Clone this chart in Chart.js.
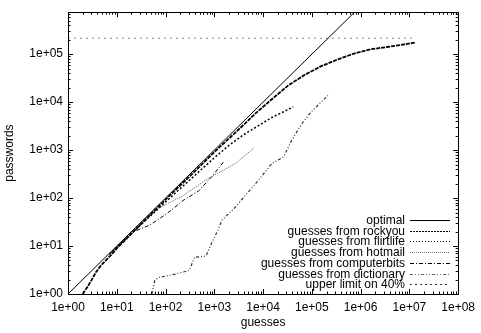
<!DOCTYPE html>
<html>
<head>
<meta charset="utf-8">
<script src="https://cdn.jsdelivr.net/npm/chart.js@4/dist/chart.umd.min.js"></script>
<style>
  html, body { margin: 0; padding: 0; background: #fff; }
</style>
</head>
<body>
<canvas id="chart" width="481" height="333"></canvas>
<script>
// ---- data (log-log) ----
const seriesNames = [
    'optimal',
    'guesses from rockyou',
    'guesses from flirtlife',
    'guesses from hotmail',
    'guesses from computerbits',
    'guesses from dictionary',
    'upper limit on 40%'
];

const xTickLabels = ['1e+00', '1e+01', '1e+02', '1e+03', '1e+04', '1e+05', '1e+06', '1e+07', '1e+08'];
const yTickLabels = ['1e+00', '1e+01', '1e+02', '1e+03', '1e+04', '1e+05'];
const yMax = 750000;

const optimalGuesses = [1, 1000000];
const optimalPasswords = [1, 1000000];

const rockyouGuesses = [2, 2.5, 3, 3.7, 4.7, 7.4, 10, 32, 100, 316, 1000, 3160, 6900, 15100, 33000, 69000, 155000, 339000, 708000, 1580000, 3470000, 7240000, 12900000];
const rockyouPasswords = [1, 1.4, 1.9, 2.8, 3.9, 6.3, 8.9, 29.5, 93, 288, 912, 2690, 5750, 11500, 22400, 36300, 56200, 77600, 102000, 126000, 141000, 158000, 174000];

const flirtlifeGuesses = [7.1, 31.6, 100, 316, 1000, 1995, 3981, 6918, 15136, 25119, 41687];
const flirtlifePasswords = [6.8, 28.2, 83, 240, 692, 1259, 2089, 2951, 4786, 6166, 7943];

const hotmailGuesses = [7.1, 22.4, 40, 76, 229, 676, 2692, 6607];
const hotmailPasswords = [6.8, 20, 35.5, 63, 112, 240, 525, 1122];

const computerbitsGuesses = [7.1, 22.4, 47.9, 105, 229, 479, 912, 1622];
const computerbitsPasswords = [6.8, 20, 27.5, 46.8, 89, 141, 288, 603];

const dictionaryGuesses = [52.5, 60, 71, 158, 309, 389, 676, 851, 1148, 1445, 2692, 7586, 15136, 26303, 38019, 60256, 97724, 154882, 213796];
const dictionaryPasswords = [1, 1.9, 2.2, 2.6, 3.1, 5.8, 6.2, 10.7, 20, 34.7, 64.6, 219, 525, 724, 1549, 3388, 6310, 10000, 13800];

const upperGuesses = [1, 12900000];
const upperPasswords = [215000, 215000];

function pairs(xs, ys) {
    return xs.map((x, i) => ({ x, y: ys[i] }));
}

const FONT = 'Liberation Sans, Arial, Helvetica, sans-serif';

// gnuplot-ish frame with inward ticks on all four sides
const frameTicks = {
    id: 'frameTicks',
    afterDatasetsDraw(chart) {
        const { ctx, chartArea: a, scales: { x, y } } = chart;
        ctx.save();
        ctx.strokeStyle = '#000';
        ctx.lineWidth = 1;
        ctx.beginPath();
        for (let d = 0; d <= 8; d++) {
            for (let m = 1; m <= 9; m++) {
                const v = m * Math.pow(10, d);
                if (v > 1e8) break;
                const px = Math.round(x.getPixelForValue(v)) + 0.5;
                const len = m === 1 ? 5 : 2.5;
                ctx.moveTo(px, a.bottom); ctx.lineTo(px, a.bottom - len);
                ctx.moveTo(px, a.top); ctx.lineTo(px, a.top + len);
            }
        }
        for (let d = 0; d <= 6; d++) {
            for (let m = 1; m <= 9; m++) {
                const v = m * Math.pow(10, d);
                if (v > yMax) break;
                const py = Math.round(y.getPixelForValue(v)) + 0.5;
                const len = m === 1 ? 5 : 2.5;
                ctx.moveTo(a.left, py); ctx.lineTo(a.left + len, py);
                ctx.moveTo(a.right, py); ctx.lineTo(a.right - len, py);
            }
        }
        ctx.stroke();
        ctx.strokeRect(Math.round(a.left) + 0.5, Math.round(a.top) + 0.5,
            Math.round(a.right - a.left), Math.round(a.bottom - a.top));
        ctx.restore();
    }
};

// key in the lower right, text right-aligned with the sample after it
const keyBox = {
    id: 'keyBox',
    afterDraw(chart) {
        const { ctx } = chart;
        const textRight = 405, x0 = 410, x1 = 450, top = 220, step = 10.7;
        ctx.save();
        ctx.font = '12px ' + FONT;
        ctx.textAlign = 'right';
        ctx.textBaseline = 'middle';
        chart.data.datasets.forEach((ds, i) => {
            const yy = Math.round(top + i * step) + 0.5;
            ctx.fillStyle = '#000';
            ctx.fillText(ds.label, textRight, yy);
            ctx.strokeStyle = ds.keyColor || ds.borderColor;
            ctx.lineWidth = 1;
            ctx.setLineDash(ds.keyDash || ds.borderDash || []);
            ctx.beginPath();
            ctx.moveTo(x0, yy); ctx.lineTo(x1, yy);
            ctx.stroke();
        });
        ctx.restore();
    }
};

const line = (label, xs, ys, color, width, dash, extra) => Object.assign({
    label,
    data: pairs(xs, ys),
    showLine: true,
    borderColor: color,
    backgroundColor: color,
    borderWidth: width,
    borderDash: dash,
    pointRadius: 0,
    tension: 0,
    fill: false
}, extra || {});

new Chart(document.getElementById('chart'), {
    type: 'scatter',
    data: {
        datasets: [
            line(seriesNames[0], optimalGuesses, optimalPasswords, '#000', 1, []),
            line(seriesNames[1], rockyouGuesses, rockyouPasswords, '#000', 1.8, [4, 1], { keyDash: [2, 1] }),
            line(seriesNames[2], flirtlifeGuesses, flirtlifePasswords, '#000', 1.5, [2, 2], { keyDash: [1, 2] }),
            line(seriesNames[3], hotmailGuesses, hotmailPasswords, '#777', 1, [1.5, 1], { keyDash: [1, 1] }),
            line(seriesNames[4], computerbitsGuesses, computerbitsPasswords, '#000', 1, [4, 2, 1, 2]),
            line(seriesNames[5], dictionaryGuesses, dictionaryPasswords, '#333', 1.2, [3, 2, 1, 2, 1, 2], { keyColor: '#666' }),
            line(seriesNames[6], upperGuesses, upperPasswords, '#888', 1, [2, 4], { keyColor: '#333', keyDash: [2, 3] })
        ]
    },
    options: {
        responsive: false,
        animation: false,
        devicePixelRatio: 1,
        layout: { padding: { left: 0, right: 17, top: 5, bottom: 0 } },
        plugins: { legend: { display: false }, tooltip: { enabled: false } },
        scales: {
            x: {
                type: 'logarithmic',
                position: 'bottom',
                min: 1,
                max: 1e8,
                grid: { display: false, drawTicks: false },
                border: { display: false },
                afterBuildTicks: s => { s.ticks = xTickLabels.map(l => ({ value: Number(l) })); },
                afterFit: s => { s.height = 39; },
                ticks: {
                    autoSkip: false,
                    maxRotation: 0,
                    padding: 6,
                    color: '#000',
                    font: { family: FONT, size: 12 },
                    callback: (v, i) => xTickLabels[i]
                },
                title: {
                    display: true,
                    text: 'guesses',
                    color: '#000',
                    font: { family: FONT, size: 12 },
                    padding: { top: 0, bottom: 3 }
                }
            },
            y: {
                type: 'logarithmic',
                position: 'left',
                min: 1,
                max: yMax,
                grid: { display: false, drawTicks: false },
                border: { display: false },
                afterBuildTicks: s => { s.ticks = yTickLabels.map(l => ({ value: Number(l) })); },
                afterFit: s => { s.width = 68; },
                ticks: {
                    autoSkip: false,
                    padding: 5,
                    color: '#000',
                    font: { family: FONT, size: 12 },
                    callback: (v, i) => yTickLabels[i]
                },
                title: {
                    display: true,
                    text: 'passwords',
                    color: '#000',
                    font: { family: FONT, size: 12 },
                    padding: { top: 2, bottom: 0 }
                }
            }
        }
    },
    plugins: [frameTicks, keyBox]
});
</script>
</body>
</html>
